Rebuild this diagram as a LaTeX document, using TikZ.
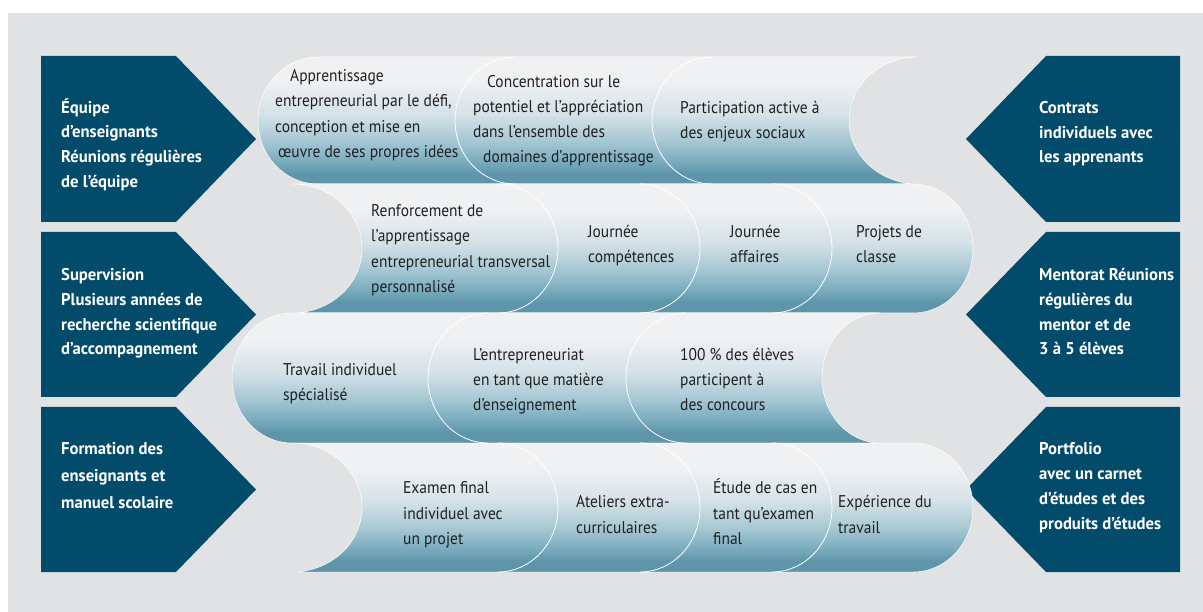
\documentclass[tikz,border=0pt]{standalone}
\usepackage{fontspec}
\setmainfont{PT Sans}[UprightFeatures={FakeStretch=0.91}, BoldFeatures={FakeStretch=0.98}]
\definecolor{bg}{HTML}{E1E2E4}
\definecolor{dark}{HTML}{024B6B}
\definecolor{ptop}{HTML}{EFF1F2}
\definecolor{pc1}{HTML}{D5E2E8}
\definecolor{pc2}{HTML}{A9C9D4}
\definecolor{pc3}{HTML}{7FB0C1}
\definecolor{pbot}{HTML}{5E95AA}
\definecolor{txt}{HTML}{202020}
\pgfdeclareverticalshading{pill}{100bp}{color(0bp)=(pbot); color(29bp)=(pbot); color(35bp)=(pc3); color(42.5bp)=(pc2); color(52.5bp)=(pc1); color(65bp)=(ptop); color(100bp)=(ptop)}
\tikzset{
  pillrow/.style={shade, shading=pill, draw=white, line width=0.5pt},
  divider/.style={draw=white, line width=0.8pt},
  arrowbox/.style={fill=dark},
  pilltext/.style={anchor=base west, align=left, inner sep=0pt, text=txt, font=\fontsize{17}{25.3}\selectfont},
  boxtext/.style={anchor=base west, align=left, inner sep=0pt, text=white, font=\bfseries\fontsize{17}{24.8}\selectfont}
}
\begin{document}
\begin{tikzpicture}[x=1pt,y=1pt]
\useasboundingbox (0,0) rectangle (1203,-612);
\fill[white] (0,0) rectangle (1203,-612);
\fill[bg] (8,-13) rectangle (1203,-612);
% left arrows
\path[arrowbox] (41,-56) -- (176,-56) -- (256,-139) -- (176,-222) -- (41,-222) -- cycle;
\path[arrowbox] (41,-232) -- (176,-232) -- (256,-314.5) -- (176,-397) -- (41,-397) -- cycle;
\path[arrowbox] (41,-407) -- (176,-407) -- (256,-489.5) -- (176,-572) -- (41,-572) -- cycle;
% right arrows
\path[arrowbox] (1180,-56) -- (1046,-56) -- (966,-139) -- (1046,-222) -- (1180,-222) -- cycle;
\path[arrowbox] (1180,-232) -- (1046,-232) -- (966,-314.5) -- (1046,-397) -- (1180,-397) -- cycle;
\path[arrowbox] (1180,-407) -- (1046,-407) -- (966,-489.5) -- (1046,-572) -- (1180,-572) -- cycle;
% pill rows
\path[pillrow] (318,-57) -- (918,-57) arc[start angle=90,end angle=270,x radius=69,y radius=63.5] -- (318,-184) arc[start angle=-90,end angle=-270,x radius=60,y radius=63.5] -- cycle;
\path[pillrow] (292,-184) -- (913,-184) arc[start angle=90,end angle=-90,x radius=60,y radius=64.5] -- (292,-313) arc[start angle=-90,end angle=90,x radius=70,y radius=64.5] -- cycle;
\path[pillrow] (292,-313) -- (880,-313) arc[start angle=90,end angle=270,x radius=58,y radius=65] -- (292,-443) arc[start angle=-90,end angle=-270,x radius=60,y radius=65] -- cycle;
\path[pillrow] (292,-443) -- (913,-443) arc[start angle=90,end angle=-90,x radius=60,y radius=64.5] -- (292,-572) arc[start angle=-90,end angle=90,x radius=70,y radius=64.5] -- cycle;
% dividers
\draw[divider] (515,-57) arc[start angle=90,end angle=270,x radius=60,y radius=63.5];
\draw[divider] (712,-57) arc[start angle=90,end angle=270,x radius=60,y radius=63.5];
\draw[divider] (498,-184) arc[start angle=90,end angle=-90,x radius=60,y radius=64.5];
\draw[divider] (640,-184) arc[start angle=90,end angle=-90,x radius=60,y radius=64.5];
\draw[divider] (772,-184) arc[start angle=90,end angle=-90,x radius=60,y radius=64.5];
\draw[divider] (488,-313) arc[start angle=90,end angle=270,x radius=60,y radius=65];
\draw[divider] (686,-313) arc[start angle=90,end angle=270,x radius=60,y radius=65];
\draw[divider] (498,-443) arc[start angle=90,end angle=-90,x radius=60,y radius=64.5];
\draw[divider] (640,-443) arc[start angle=90,end angle=-90,x radius=60,y radius=64.5];
\draw[divider] (772,-443) arc[start angle=90,end angle=-90,x radius=60,y radius=64.5];
% box texts (anchored at the baseline of the last line)
\node[boxtext] (l1) at (61,-187.5) {Équipe\\d’enseignants\\Réunions régulières\\de l’équipe};
\node[boxtext] (l2) at (61,-355) {Supervision\\Plusieurs années de\\recherche scientifique\\d’accompagnement};
\node[boxtext, font=\bfseries\fontsize{17}{27}\selectfont] (l3) at (61,-508) {Formation des\\enseignants et\\manuel scolaire};
\node[boxtext] (r1) at (1039,-163) {Contrats\\individuels avec\\les apprenants};
\node[boxtext] (r2) at (1039,-355) {Mentorat Réunions\\régulières du\\mentor et de\\3 à 5 élèves};
\node[boxtext] (r3) at (1039,-529) {Portfolio\\avec un carnet\\d’études et des\\produits d’études};
% pill texts (anchored at the baseline of the last line)
\node[pilltext] (a1) at (275,-157.5) {\hspace*{15pt}Apprentissage\\entrepreneurial par le défi,\\conception et mise en\\\hspace*{3pt}œuvre de ses propres idées};
\node[pilltext] (a2) at (473,-163) {\hspace*{14pt}Concentration sur le\\potentiel et l’appréciation\\dans l’ensemble des\\\hspace*{10pt}domaines d’apprentissage};
\node[pilltext] (a3) at (680,-138.5) {Participation active à\\des enjeux sociaux};
\node[pilltext] (b1) at (371,-292.5) {Renforcement de\\l’apprentissage\\entrepreneurial transversal\\personnalisé};
\node[pilltext] (b2) at (588,-262.5) {Journée\\compétences};
\node[pilltext] (b3) at (730,-262.5) {Journée\\affaires};
\node[pilltext] (b4) at (856,-262.5) {Projets de\\classe};
\node[pilltext] (c1) at (283,-400.5) {Travail individuel\\spécialisé};
\node[pilltext] (c2) at (473,-411) {L’entrepreneuriat\\en tant que matière\\d’enseignement};
\node[pilltext] (c3) at (680,-411) {100 \% des élèves\\participent à\\des concours};
\node[pilltext] (d1) at (403,-544.5) {Examen final\\individuel avec\\un projet};
\node[pilltext] (d2) at (576,-533) {Ateliers extra-\\curriculaires};
\node[pilltext] (d3) at (713,-544.5) {Étude de cas en\\tant qu’examen\\final};
\node[pilltext] (d4) at (838,-533) {Expérience du\\travail};
\end{tikzpicture}
\end{document}
